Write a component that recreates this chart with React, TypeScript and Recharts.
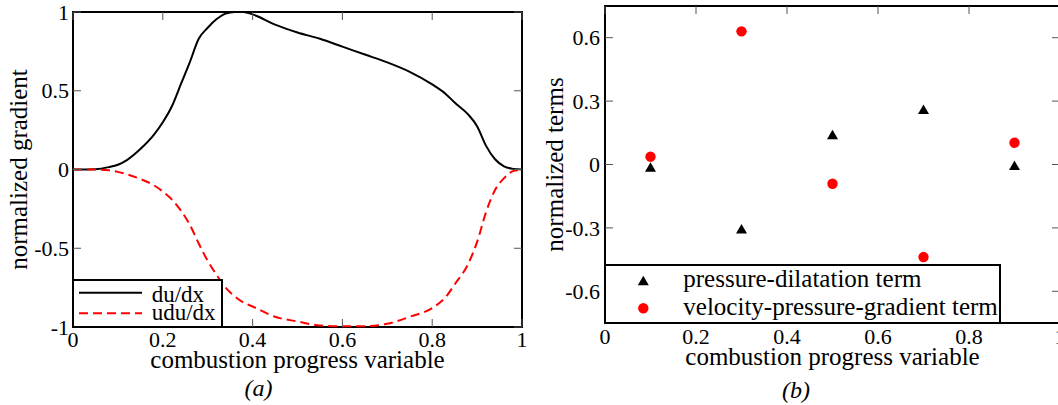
import {
  Label,
  Legend,
  Line,
  LineChart,
  ReferenceArea,
  Scatter,
  ScatterChart,
  XAxis,
  YAxis,
} from "recharts";

// panel (a): normalized gradients along the flame
const progress = [
  0, 0.05, 0.08, 0.1, 0.12, 0.15, 0.18, 0.2, 0.22, 0.24, 0.26, 0.28, 0.3,
  0.32, 0.34, 0.36, 0.38, 0.4, 0.45, 0.5, 0.55, 0.6, 0.65, 0.7, 0.75, 0.8,
  0.83, 0.85, 0.88, 0.9, 0.92, 0.94, 0.96, 0.98, 1,
];
const duDx = [
  0, 0.002, 0.015, 0.03, 0.06, 0.13, 0.22, 0.3, 0.4, 0.54, 0.68, 0.83, 0.9,
  0.955, 0.99, 1, 1, 0.985, 0.92, 0.87, 0.83, 0.78, 0.73, 0.68, 0.62, 0.54,
  0.48, 0.425, 0.35, 0.275, 0.15, 0.065, 0.02, 0.004, 0,
];
const uduDx = [
  0, 0, -0.005, -0.015, -0.03, -0.06, -0.1, -0.14, -0.19, -0.26, -0.35,
  -0.47, -0.58, -0.67, -0.75, -0.805, -0.845, -0.87, -0.935, -0.965, -0.99,
  -0.995, -0.995, -0.98, -0.935, -0.88, -0.81, -0.73, -0.6, -0.46, -0.27,
  -0.13, -0.055, -0.01, 0,
];
const gradientTicksX = [0, 0.2, 0.4, 0.6, 0.8, 1];
const gradientTicksY = [-1, -0.5, 0, 0.5, 1];

// panel (b): normalized terms at five progress samples
const sampleProgress = [0.1, 0.3, 0.5, 0.7, 0.9];
const pressureDilatation = [-0.018, -0.31, 0.136, 0.255, -0.01];
const velocityPressureGradient = [0.037, 0.63, -0.091, -0.438, 0.103];
const termTicksX = [0, 0.2, 0.4, 0.6, 0.8, 1];
const termTicksY = [-0.6, -0.3, 0, 0.3, 0.6];

const FONT = "'Liberation Serif', 'Times New Roman', serif";
const TICK_COLOR = "#555";
const RED = "#ff0000";

type Frame = { top: number; bottom: number; left: number; right: number };

const frameA: Frame = { top: 12, bottom: 327, left: 73, right: 522 };
const frameB: Frame = { top: 6, bottom: 323, left: 75, right: 530 };

const makeXTick = (f: Frame) => (props: any) => {
  const { x, y, payload } = props;
  return (
    <g>
      <line x1={x} x2={x} y1={f.bottom} y2={f.bottom - 8} stroke={TICK_COLOR} />
      <line x1={x} x2={x} y1={f.top} y2={f.top + 8} stroke={TICK_COLOR} />
      <text x={x} y={y} dy="0.71em" textAnchor="middle" fontSize={22} fontFamily={FONT} fill="#000">
        {String(payload.value)}
      </text>
    </g>
  );
};

const makeYTick = (f: Frame) => (props: any) => {
  const { x, y, payload } = props;
  return (
    <g>
      <line x1={f.left} x2={f.left + 8} y1={y} y2={y} stroke={TICK_COLOR} />
      <line x1={f.right - 8} x2={f.right} y1={y} y2={y} stroke={TICK_COLOR} />
      <text x={x} y={y} dy="0.35em" textAnchor="end" fontSize={22} fontFamily={FONT} fill="#000">
        {String(payload.value)}
      </text>
    </g>
  );
};

const yTitle = (text: string, baseX: number) => (props: any) => {
  const vb = props.viewBox || {};
  const cy = vb.y + vb.height / 2;
  return (
    <text
      x={baseX}
      y={cy}
      transform={`rotate(-90 ${baseX} ${cy})`}
      textAnchor="middle"
      fontSize={25}
      fontFamily={FONT}
      fill="#000"
    >
      {text}
    </text>
  );
};

const gradientLegend = (props: any) => {
  const items = props.payload || [];
  return (
    <div
      style={{
        width: 151,
        height: 49,
        border: "2px solid #000",
        boxSizing: "border-box",
        background: "#fff",
      }}
    >
      <svg width={147} height={45} style={{ display: "block" }}>
        {items.map((entry: any, i: number) => (
          <g key={entry.value}>
            <line
              x1={5}
              x2={68}
              y1={11.7 + i * 20.6}
              y2={11.7 + i * 20.6}
              stroke={entry.color}
              strokeWidth={2}
              strokeDasharray={i === 1 ? "9 5" : undefined}
            />
            <text x={77.7} y={21.3 + i * 17.7} fontSize={23} fontFamily={FONT} fill="#000">
              {entry.value}
            </text>
          </g>
        ))}
      </svg>
    </div>
  );
};

const triangle = (cx: number, cy: number, color: string) => (
  <polygon
    points={`${cx},${cy - 6} ${cx - 5.5},${cy + 3.5} ${cx + 5.5},${cy + 3.5}`}
    fill={color}
  />
);

const TriangleShape = (props: any) => triangle(props.cx, props.cy, "#000");
const CircleShape = (props: any) => <circle cx={props.cx} cy={props.cy} r={5.2} fill={RED} />;

const termsLegend = (props: any) => {
  const items = props.payload || [];
  return (
    <div
      style={{
        width: 397,
        height: 60,
        border: "2px solid #000",
        boxSizing: "border-box",
        background: "#fff",
      }}
    >
      <svg width={393} height={56} style={{ display: "block" }}>
        {items.map((entry: any, i: number) => (
          <g key={entry.value}>
            {i === 0
              ? triangle(37.3, 15.7, "#000")
              : <circle cx={37.3} cy={42.3} r={5.2} fill={RED} />}
            <text x={77.3} y={21 + i * 28} fontSize={25} fontFamily={FONT} fill="#000">
              {entry.value}
            </text>
          </g>
        ))}
      </svg>
    </div>
  );
};

const gradientData = progress.map((c, i) => ({ c, duDx: duDx[i], uduDx: uduDx[i] }));
const pdData = sampleProgress.map((c, i) => ({ c, v: pressureDilatation[i] }));
const vpgData = sampleProgress.map((c, i) => ({ c, v: velocityPressureGradient[i] }));

const App = () => {
  return (
    <div
      style={{
        position: "absolute",
        left: 0,
        top: 0,
        width: 1058,
        height: 405,
        overflow: "hidden",
        background: "#fff",
        fontFamily: FONT,
      }}
    >
      <div style={{ position: "absolute", left: 0, top: 0 }}>
        <LineChart
          width={530}
          height={405}
          data={gradientData}
          margin={{ top: 12, right: 8, bottom: 0, left: 0 }}
          style={{ fontFamily: FONT }}
        >
          <XAxis
            dataKey="c"
            type="number"
            domain={[0, 1]}
            ticks={gradientTicksX}
            interval={0}
            height={78}
            axisLine={false}
            tickLine={false}
            tickSize={0}
            tickMargin={4}
            tick={makeXTick(frameA)}
          >
            <Label
              value="combustion progress variable"
              position="insideTop"
              offset={23}
              fontSize={25}
              fill="#000"
            />
          </XAxis>
          <YAxis
            type="number"
            domain={[-1, 1]}
            ticks={gradientTicksY}
            interval={0}
            width={73}
            axisLine={false}
            tickLine={false}
            tickSize={0}
            tickMargin={4}
            tick={makeYTick(frameA)}
          >
            <Label content={yTitle("normalized gradient", 27)} />
          </YAxis>
          <Line
            type="monotone"
            dataKey="duDx"
            name="du/dx"
            stroke="#000"
            strokeWidth={2}
            dot={false}
            isAnimationActive={false}
          />
          <Line
            type="monotone"
            dataKey="uduDx"
            name="udu/dx"
            stroke={RED}
            strokeWidth={2}
            strokeDasharray="9 5"
            dot={false}
            isAnimationActive={false}
          />
          <ReferenceArea x1={0} x2={1} y1={-1} y2={1} fill="none" stroke="#000" strokeWidth={2} />
          <Legend
            layout="horizontal"
            verticalAlign="middle"
            align="center"
            content={gradientLegend}
            wrapperStyle={{ left: 72, top: 279, width: 151, height: 49 }}
          />
        </LineChart>
      </div>

      <div style={{ position: "absolute", left: 530, top: 0 }}>
        <ScatterChart
          width={540}
          height={405}
          margin={{ top: 6, right: 10, bottom: 0, left: 0 }}
          style={{ fontFamily: FONT }}
        >
          <XAxis
            dataKey="c"
            type="number"
            domain={[0, 1]}
            ticks={termTicksX}
            interval={0}
            height={82}
            axisLine={false}
            tickLine={false}
            tickSize={0}
            tickMargin={5}
            tick={makeXTick(frameB)}
          >
            <Label
              value="combustion progress variable"
              position="insideTop"
              offset={24}
              fontSize={25}
              fill="#000"
            />
          </XAxis>
          <YAxis
            dataKey="v"
            type="number"
            domain={[-0.75, 0.75]}
            ticks={termTicksY}
            interval={0}
            width={75}
            axisLine={false}
            tickLine={false}
            tickSize={0}
            tickMargin={5}
            tick={makeYTick(frameB)}
          >
            <Label content={yTitle("normalized terms", 32.5)} />
          </YAxis>
          <Scatter
            name="pressure-dilatation term"
            data={pdData}
            fill="#000"
            shape={TriangleShape}
            isAnimationActive={false}
          />
          <Scatter
            name="velocity-pressure-gradient term"
            data={vpgData}
            fill={RED}
            shape={CircleShape}
            isAnimationActive={false}
          />
          <ReferenceArea x1={0} x2={1} y1={-0.75} y2={0.75} fill="none" stroke="#000" strokeWidth={2} />
          <Legend
            layout="horizontal"
            verticalAlign="middle"
            align="center"
            content={termsLegend}
            wrapperStyle={{ left: 74, top: 264, width: 397, height: 60 }}
          />
        </ScatterChart>
      </div>

      <div
        style={{
          position: "absolute",
          left: 208.5,
          top: 376,
          width: 100,
          textAlign: "center",
          fontSize: 24,
          lineHeight: "24px",
          fontStyle: "italic",
        }}
      >
        (a)
      </div>
      <div
        style={{
          position: "absolute",
          left: 746,
          top: 378,
          width: 100,
          textAlign: "center",
          fontSize: 24,
          lineHeight: "24px",
          fontStyle: "italic",
        }}
      >
        (b)
      </div>
    </div>
  );
};

export default App;
